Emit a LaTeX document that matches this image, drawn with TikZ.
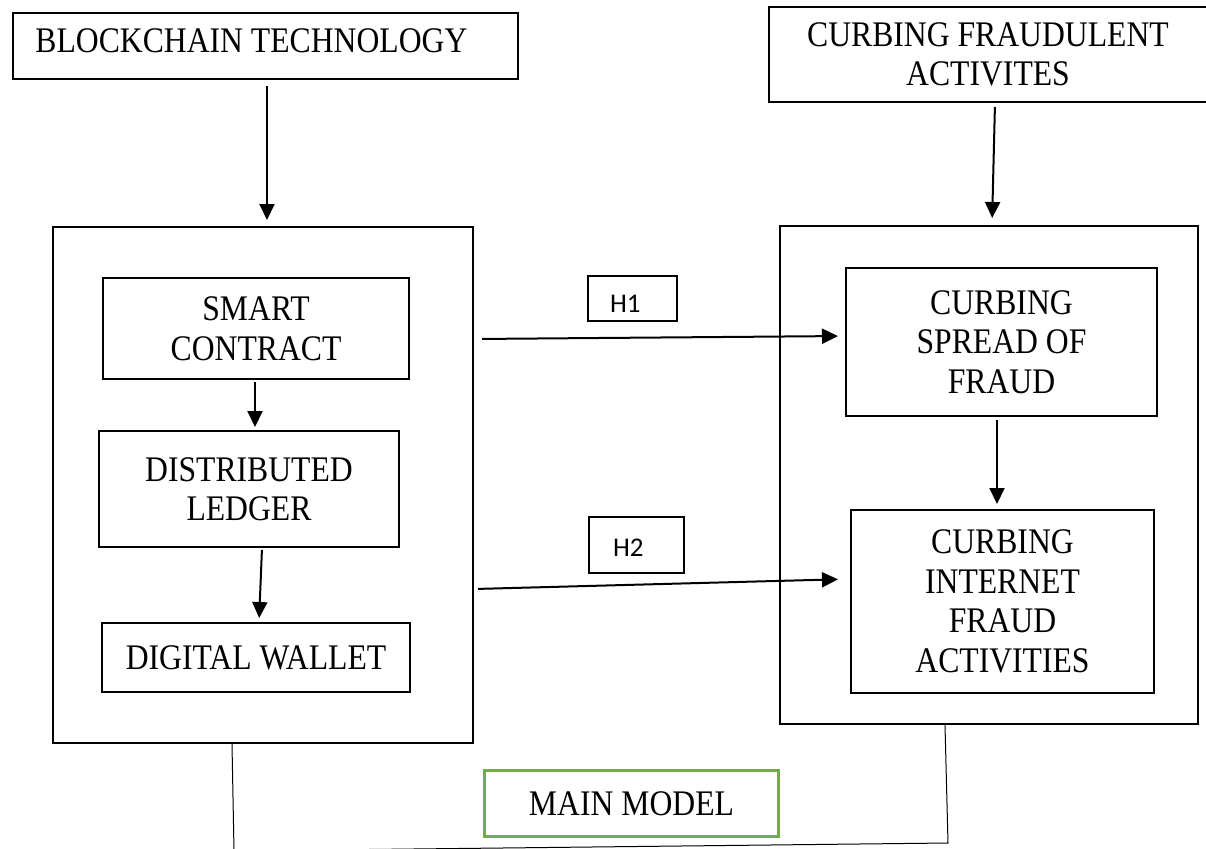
\documentclass[tikz,border=0pt]{standalone}
\usepackage{fontspec}
\setmainfont{Liberation Serif}[FakeStretch=0.88]
\newfontfamily\calfont{Carlito}
\usetikzlibrary{arrows.meta}
\definecolor{mmgreen}{HTML}{70AD47}
\begin{document}
\begin{tikzpicture}[x=0.5pt,y=-0.5pt,
  txt/.style={font=\fontsize{18}{19.75}\selectfont},
  box/.style={draw,line width=1pt,align=center,inner sep=0pt,txt},
  hbox/.style={draw,line width=1pt,inner ysep=0pt,font=\calfont\fontsize{13.5}{15}\selectfont,align=left,text depth=0pt},
  arr/.style={line width=1pt,-{Triangle[length=8pt,width=7.5pt]}},
  link/.style={line width=0.5pt}]
\useasboundingbox (0,0) rectangle (1206,848);
\clip (0,0) rectangle (1206,848);
% top boxes
\node[draw,line width=1pt,inner sep=0pt,minimum width=252.5pt,minimum height=33pt,anchor=north west] (bc) at (12,12) {};
\node[txt,anchor=base west,inner sep=0pt] (bct) at (35,52) {BLOCKCHAIN TECHNOLOGY};
\node[box,minimum width=219pt,minimum height=47.5pt,anchor=north west] (cf) at (768,6) {CURBING FRAUDULENT\\ACTIVITES};
% big boxes
\node[draw,line width=1pt,minimum width=210pt,minimum height=258pt,anchor=north west] (lb) at (52,226) {};
\node[draw,line width=1pt,minimum width=209pt,minimum height=249pt,anchor=north west] (rb) at (779,225) {};
% left inner
\node[box,minimum width=153pt,minimum height=50.5pt,anchor=north west] (sc) at (102,277) {SMART\\CONTRACT};
\node[box,minimum width=150pt,minimum height=58pt,anchor=north west] (dl) at (98,430) {DISTRIBUTED\\LEDGER};
\node[box,minimum width=154pt,minimum height=34.5pt,anchor=north west] (dw) at (101,622) {DIGITAL WALLET};
% right inner
\node[box,minimum width=155.5pt,minimum height=74pt,anchor=north west] (sp) at (845,267) {CURBING\\SPREAD OF\\FRAUD};
\node[box,minimum width=151.5pt,minimum height=91.5pt,anchor=north west] (ia) at (850,509) {CURBING\\INTERNET\\FRAUD\\ACTIVITIES};
% H labels
\node[hbox,minimum width=44.5pt,minimum height=22.5pt,anchor=north west,text height=14.2pt,text width=22.5pt,inner xsep=11pt] (h1) at (587,275) {H1};
\node[hbox,minimum width=47.5pt,minimum height=28pt,anchor=north west,text height=11.2pt,text width=23.5pt,inner xsep=12pt] (h2) at (588,516) {H2};
% main model
\node[draw=mmgreen,line width=1.5pt,minimum width=147pt,minimum height=33pt,anchor=north west,txt] (mm) at (483,769) {MAIN MODEL};
% arrows
\draw[arr,shorten <=3pt,shorten >=3pt] (bc.south -| 267,0) -- (lb.north -| 267,0);
\draw[arr,shorten <=2pt,shorten >=3.5pt] (cf.south -| 995,0) -- (rb.north -| 992,0);
\draw[arr,shorten <=1pt,shorten >=1.5pt] (sc.south -| 255,0) -- (dl.north -| 255,0);
\draw[arr,shorten <=1pt,shorten >=2pt] (dl.south -| 262,0) -- (dw.north -| 259,0);
\draw[arr,shorten <=1.5pt,shorten >=2.5pt] (sp.south -| 997,0) -- (ia.north -| 997,0);
\draw[arr,shorten <=4pt,shorten >=3.5pt] (lb.east |- 0,339) -- (sp.west |- 0,336);
\draw[arr,shorten <=2pt,shorten >=6pt] (lb.east |- 0,589) -- (ia.west |- 0,579);
% bottom link
\draw[link] (lb.south -| 232,0) -- (234,851) -- (948,843) -- (rb.south -| 945,0);
\end{tikzpicture}
\end{document}
